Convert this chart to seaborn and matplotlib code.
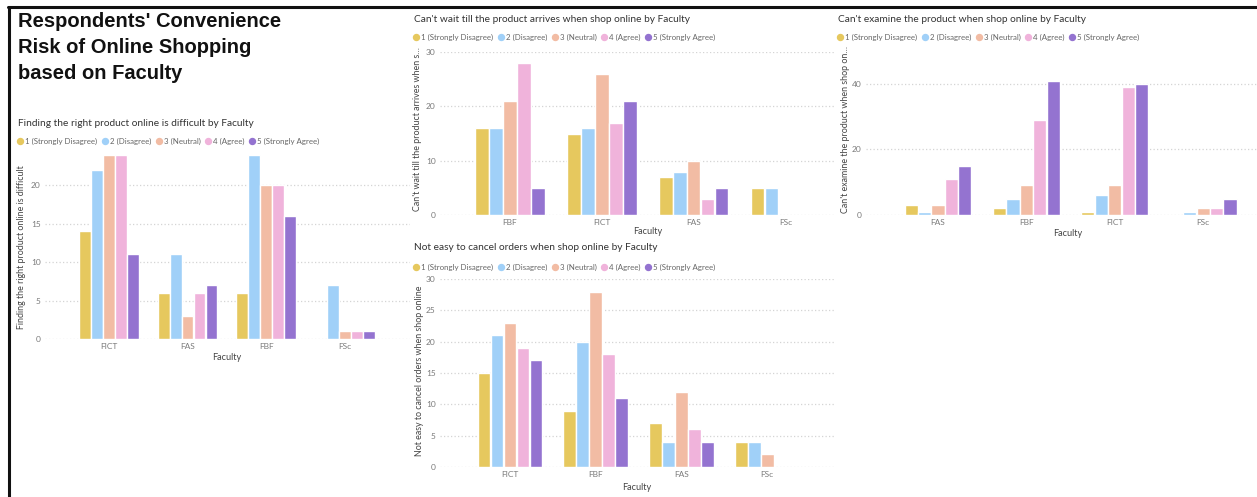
import matplotlib
matplotlib.use("Agg")
import matplotlib.pyplot as plt
from matplotlib.lines import Line2D
import seaborn as sns
import pandas as pd

# ---- data -------------------------------------------------------------
responses = ["1 (Strongly Disagree)", "2 (Disagree)", "3 (Neutral)",
             "4 (Agree)", "5 (Strongly Agree)"]
colors = ["#E6C85E", "#A0D0F8", "#F2BCA4", "#F0B3DB", "#9473D0"]

find_faculty = ["FICT", "FAS", "FBF", "FSc"]
find_sd = [14, 6, 6, 0]
find_d = [22, 11, 24, 7]
find_n = [24, 3, 20, 1]
find_a = [24, 6, 20, 1]
find_sa = [11, 7, 16, 1]

wait_faculty = ["FBF", "FICT", "FAS", "FSc"]
wait_sd = [16, 15, 7, 5]
wait_d = [16, 16, 8, 5]
wait_n = [21, 26, 10, 0]
wait_a = [28, 17, 3, 0]
wait_sa = [5, 21, 5, 0]

exam_faculty = ["FAS", "FBF", "FICT", "FSc"]
exam_sd = [3, 2, 1, 0]
exam_d = [1, 5, 6, 1]
exam_n = [3, 9, 9, 2]
exam_a = [11, 29, 39, 2]
exam_sa = [15, 41, 40, 5]

cancel_faculty = ["FICT", "FBF", "FAS", "FSc"]
cancel_sd = [15, 9, 7, 4]
cancel_d = [21, 20, 4, 4]
cancel_n = [23, 28, 12, 2]
cancel_a = [19, 18, 6, 0]
cancel_sa = [17, 11, 4, 0]


def long_frame(faculty, *series):
    rows = []
    for resp, vals in zip(responses, series):
        for fac, v in zip(faculty, vals):
            rows.append({"Faculty": fac, "Response": resp, "Count": v})
    return pd.DataFrame(rows)


# ---- figure -----------------------------------------------------------
sns.set_theme(style="white")
plt.rcParams["font.family"] = ["Lato", "DejaVu Sans"]

W, H = 1257, 497
fig = plt.figure(figsize=(W / 100, H / 100), dpi=100)
fig.patch.set_facecolor("white")


def px(x):
    return x / W


def py(y):
    return 1 - y / H


def panel(box, df, order, ylim, yticks, xlim, title, title_xy, legend_xy,
          ylabel, ylabel_xy, xlabel_xy):
    l, t, r, b = box
    ax = fig.add_axes([px(l), py(b), (r - l) / W, (b - t) / H])
    sns.barplot(data=df, x="Faculty", y="Count", hue="Response",
                order=order, hue_order=responses, palette=colors,
                saturation=1, width=0.76, gap=0.02, legend=False, ax=ax)
    ax.set_ylim(*ylim)
    ax.set_xlim(*xlim)
    ax.set_yticks(yticks)
    for v in yticks:
        ax.axhline(v, color="#D4D4D4", lw=0.9, ls=(0, (1, 1.8)), zorder=0)
    for s in ax.spines.values():
        s.set_visible(False)
    ax.tick_params(axis="both", length=0, labelsize=6, labelcolor="#7A7A7A",
                   pad=3)
    ax.set_xlabel("")
    ax.set_ylabel("")
    fig.text(px(title_xy[0]), py(title_xy[1]), title, fontsize=7.3,
             color="#333333", ha="left", va="center")
    handles = [Line2D([], [], ls="", marker="o", ms=4.3, color=c) for c in colors]
    fig.legend(handles, responses, loc="center left",
               bbox_to_anchor=(px(legend_xy[0]), py(legend_xy[1])),
               ncol=5, frameon=False, fontsize=5.7, labelcolor="#666666",
               handletextpad=0.3, columnspacing=0.6, handlelength=0.7,
               borderpad=0, borderaxespad=0)
    fig.text(px(ylabel_xy[0]), py(ylabel_xy[1]), ylabel, rotation=90,
             fontsize=6.4, color="#444444", ha="center", va="center")
    fig.text(px(xlabel_xy[0]), py(xlabel_xy[1]), "Faculty", fontsize=6.6,
             color="#444444", ha="center", va="center")
    return ax


# headline
fig.text(px(18), py(12), "Respondents' Convenience\nRisk of Online Shopping\nbased on Faculty",
         family=["Liberation Sans", "DejaVu Sans"], fontsize=14.5, fontweight="bold",
         color="#111111", ha="left", va="top", linespacing=1.47)

panel((45, 150, 410, 339),
      long_frame(find_faculty, find_sd, find_d, find_n, find_a, find_sa),
      find_faculty, (0, 24.6), [0, 5, 10, 15, 20], (-0.815, 3.83),
      "Finding the right product online is difficult by Faculty", (18, 124),
      (17, 141), "Finding the right product online is difficult", (22, 247),
      (227, 358))

panel((440, 52, 835, 215),
      long_frame(wait_faculty, wait_sd, wait_d, wait_n, wait_a, wait_sa),
      wait_faculty, (0, 30), [0, 10, 20, 30], (-0.763, 3.54),
      "Can't wait till the product arrives when shop online by Faculty", (414, 19),
      (413, 37), "Can't wait till the product arrives when s\u2026", (418, 129),
      (648, 232))

panel((866, 51, 1257, 215),
      long_frame(exam_faculty, exam_sd, exam_d, exam_n, exam_a, exam_sa),
      exam_faculty, (0, 50), [0, 20, 40], (-0.815, 3.61),
      "Can't examine the product when shop online by Faculty", (838, 19),
      (837, 37), "Can't examine the product when shop on\u2026", (845, 130),
      (1068, 234))

panel((440, 279, 835, 467),
      long_frame(cancel_faculty, cancel_sd, cancel_d, cancel_n, cancel_a, cancel_sa),
      cancel_faculty, (0, 30), [0, 5, 10, 15, 20, 25, 30], (-0.817, 3.79),
      "Not easy to cancel orders when shop online by Faculty", (414, 248),
      (413, 267), "Not easy to cancel orders when shop online", (420, 371),
      (637, 487))

# dashboard frame
fig.add_artist(Line2D([px(8), 1], [py(6.5), py(6.5)], color="#111111", lw=2.2))
fig.add_artist(Line2D([px(8.5), px(8.5)], [py(6.5), 0], color="#111111", lw=2.2))

fig.savefig("out.png", dpi=100, facecolor="white")
